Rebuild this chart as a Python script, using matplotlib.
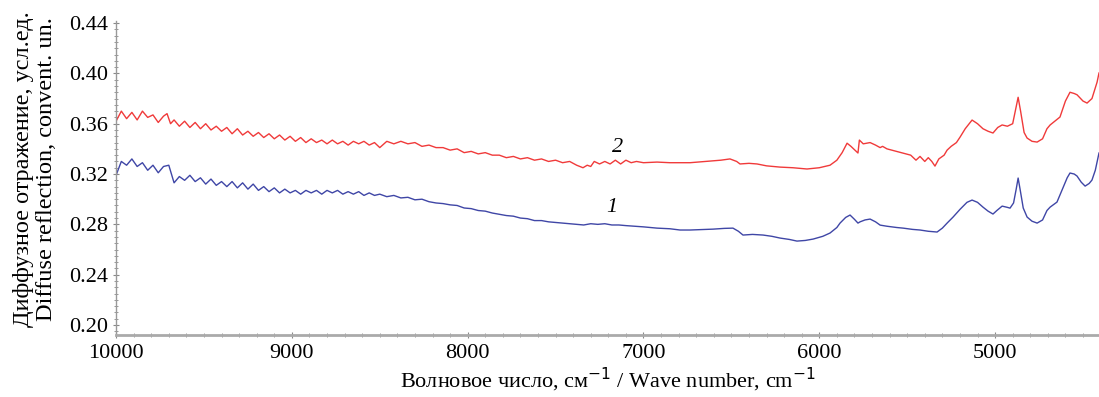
import matplotlib
matplotlib.use("Agg")
import matplotlib.pyplot as plt
from matplotlib.ticker import MultipleLocator

plt.rcParams['font.family'] = ['Liberation Serif', 'DejaVu Serif']

# curve 2 (red): wave number, reflection
wn_2 = [10000, 9970, 9940, 9910, 9880, 9850, 9820, 9790, 9760, 9730, 9710, 9690, 9670, 9640,
        9610, 9580, 9550, 9520, 9490, 9460, 9430, 9400, 9370, 9340, 9310, 9280, 9250, 9220,
        9190, 9160, 9130, 9100, 9070, 9040, 9010, 8980, 8950, 8920, 8890, 8860, 8830, 8800,
        8770, 8740, 8710, 8680, 8650, 8620, 8590, 8560, 8530, 8500, 8460, 8420, 8380, 8340,
        8300, 8260, 8220, 8180, 8140, 8100, 8060, 8020, 7980, 7940, 7900, 7860, 7820, 7780,
        7740, 7700, 7660, 7620, 7580, 7540, 7500, 7460, 7420, 7380, 7344, 7320, 7300, 7280,
        7250, 7220, 7190, 7160, 7130, 7100, 7070, 7040, 7000, 6923, 6850, 6792, 6735, 6650,
        6560, 6508, 6470, 6451, 6400, 6354, 6300, 6223, 6150, 6070, 6000, 5939, 5900, 5870,
        5842, 5820, 5790, 5780, 5772, 5750, 5711, 5680, 5654, 5640, 5615, 5560, 5523, 5480,
        5450, 5427, 5400, 5380, 5360, 5342, 5320, 5290, 5273, 5250, 5220, 5199, 5170, 5131,
        5100, 5069, 5040, 5012, 4985, 4960, 4930, 4900, 4885, 4869, 4855, 4835, 4818, 4790,
        4761, 4730, 4705, 4687, 4660, 4631, 4600, 4574, 4550, 4534, 4500, 4477, 4449, 4420,
        4409]
refl_2 = [0.362, 0.370, 0.364, 0.369, 0.363, 0.370, 0.365, 0.367, 0.361, 0.366, 0.368,
          0.360, 0.363, 0.358, 0.362, 0.357, 0.361, 0.356, 0.360, 0.355, 0.358, 0.354,
          0.357, 0.352, 0.356, 0.351, 0.354, 0.350, 0.353, 0.349, 0.352, 0.348, 0.351,
          0.347, 0.350, 0.346, 0.349, 0.345, 0.348, 0.345, 0.347, 0.344, 0.347, 0.344,
          0.346, 0.343, 0.346, 0.344, 0.346, 0.343, 0.345, 0.341, 0.346, 0.344, 0.346,
          0.344, 0.345, 0.342, 0.343, 0.341, 0.341, 0.339, 0.340, 0.337, 0.338, 0.336,
          0.337, 0.335, 0.335, 0.333, 0.334, 0.332, 0.333, 0.331, 0.332, 0.330, 0.331,
          0.329, 0.330, 0.327, 0.325, 0.327, 0.326, 0.330, 0.328, 0.330, 0.328, 0.331,
          0.328, 0.331, 0.329, 0.330, 0.329, 0.3295, 0.329, 0.329, 0.329, 0.330, 0.331,
          0.332, 0.330, 0.328, 0.3285, 0.328, 0.3265, 0.3255, 0.325, 0.324, 0.325, 0.327,
          0.331, 0.337, 0.3445, 0.342, 0.338, 0.3367, 0.347, 0.344, 0.345, 0.343, 0.341,
          0.342, 0.340, 0.338, 0.3367, 0.335, 0.331, 0.334, 0.330, 0.333, 0.330, 0.3263,
          0.332, 0.335, 0.339, 0.342, 0.345, 0.3494, 0.356, 0.3629, 0.360, 0.356, 0.354,
          0.3526, 0.357, 0.359, 0.358, 0.360, 0.370, 0.381, 0.370, 0.353, 0.3486, 0.346,
          0.3454, 0.348, 0.356, 0.359, 0.362, 0.3653, 0.378, 0.385, 0.384, 0.383, 0.378,
          0.3764, 0.380, 0.393, 0.4003]

# curve 1 (blue)
wn_1 = [10000, 9970, 9940, 9910, 9880, 9850, 9820, 9790, 9760, 9730, 9700, 9670, 9640, 9610,
        9580, 9550, 9520, 9490, 9460, 9430, 9400, 9370, 9340, 9310, 9280, 9250, 9220, 9190,
        9160, 9130, 9100, 9070, 9040, 9010, 8980, 8950, 8920, 8890, 8860, 8830, 8800, 8770,
        8740, 8710, 8680, 8650, 8620, 8590, 8560, 8530, 8500, 8460, 8420, 8380, 8340, 8300,
        8260, 8220, 8180, 8140, 8100, 8060, 8020, 7980, 7940, 7900, 7860, 7820, 7780, 7740,
        7700, 7660, 7620, 7580, 7540, 7500, 7460, 7420, 7380, 7340, 7300, 7260, 7220, 7180,
        7140, 7100, 7050, 7000, 6923, 6850, 6792, 6735, 6650, 6604, 6540, 6491, 6460, 6434,
        6380, 6320, 6270, 6223, 6170, 6127, 6080, 6035, 5980, 5939, 5900, 5882, 5850, 5825,
        5800, 5780, 5768, 5740, 5711, 5680, 5654, 5615, 5560, 5523, 5470, 5427, 5380, 5330,
        5300, 5273, 5239, 5199, 5160, 5131, 5100, 5069, 5040, 5012, 4990, 4960, 4930, 4915,
        4895, 4880, 4869, 4858, 4840, 4818, 4790, 4761, 4730, 4705, 4687, 4648, 4620, 4590,
        4574, 4550, 4534, 4510, 4488, 4465, 4449, 4430, 4409]
refl_1 = [0.319, 0.330, 0.327, 0.332, 0.326, 0.329, 0.323, 0.327, 0.321, 0.326, 0.327,
          0.313, 0.318, 0.315, 0.319, 0.314, 0.317, 0.312, 0.316, 0.311, 0.314, 0.310,
          0.314, 0.309, 0.313, 0.308, 0.312, 0.307, 0.310, 0.306, 0.309, 0.305, 0.308,
          0.305, 0.307, 0.304, 0.307, 0.305, 0.307, 0.304, 0.307, 0.305, 0.307, 0.304,
          0.306, 0.304, 0.306, 0.303, 0.305, 0.303, 0.304, 0.302, 0.303, 0.301, 0.3015,
          0.2995, 0.300, 0.298, 0.297, 0.2965, 0.2955, 0.295, 0.293, 0.2925, 0.291,
          0.2905, 0.289, 0.288, 0.287, 0.2865, 0.285, 0.2845, 0.283, 0.283, 0.282,
          0.2815, 0.281, 0.2805, 0.280, 0.2795, 0.2805, 0.280, 0.2805, 0.2795, 0.2795,
          0.279, 0.2785, 0.278, 0.277, 0.2765, 0.2755, 0.2755, 0.276, 0.2762, 0.2768,
          0.277, 0.2745, 0.2715, 0.272, 0.2715, 0.2705, 0.2691, 0.268, 0.2667, 0.2672,
          0.2683, 0.2705, 0.2731, 0.2775, 0.281, 0.2855, 0.2874, 0.284, 0.281, 0.282,
          0.2835, 0.2842, 0.282, 0.2794, 0.2785, 0.2775, 0.277, 0.276, 0.2755, 0.2745,
          0.2739, 0.277, 0.281, 0.2858, 0.292, 0.2975, 0.2993, 0.2975, 0.2937, 0.2905,
          0.2882, 0.291, 0.2945, 0.2935, 0.2929, 0.297, 0.308, 0.3168, 0.308, 0.293,
          0.2858, 0.2825, 0.281, 0.2835, 0.291, 0.2937, 0.2977, 0.307, 0.317, 0.3208,
          0.320, 0.3184, 0.3135, 0.3104, 0.3125, 0.3152, 0.323, 0.3367]

fig = plt.figure(figsize=(10.99, 3.97), dpi=100)
ax = fig.add_axes([0.1056, 0.156, 0.8944, 0.791])

ax.plot(wn_2, refl_2, color='#f03a3a', lw=1.0)
ax.plot(wn_1, refl_1, color='#3f46a6', lw=1.0)

ax.text(7150, 0.3414, '2', fontsize=16, style='italic', ha='center', va='center')
ax.text(7179, 0.293, '1', fontsize=16, style='italic', ha='center', va='center')

ax.set_xlim(10000, 4409)
ax.set_ylim(0.192, 0.4416)
ax.xaxis.set_major_locator(MultipleLocator(1000))
ax.xaxis.set_minor_locator(MultipleLocator(100))
ax.yaxis.set_major_locator(MultipleLocator(0.04))
ax.yaxis.set_minor_locator(MultipleLocator(0.005))
ax.yaxis.set_major_formatter(plt.FormatStrFormatter('%.2f'))

ax.spines['top'].set_visible(False)
ax.spines['right'].set_visible(False)
ax.spines['bottom'].set_color('#aaaaaa')
ax.spines['bottom'].set_linewidth(2)
ax.spines['left'].set_color('#999999')
ax.spines['left'].set_linewidth(1)
ax.tick_params(axis='both', which='both', labelsize=16, color='#888888', direction='inout')
ax.tick_params(axis='both', which='major', length=5)
ax.tick_params(axis='both', which='minor', length=3)
ax.tick_params(axis='x', pad=4)

ax.set_xlabel('Волновое число, см$^{-1}$ / Wave number, cm$^{-1}$', fontsize=16, labelpad=2)
ax.set_ylabel('Диффузное отражение, усл.ед.\nDiffuse reflection, convent. un.',
              fontsize=17.5, linespacing=1.1)
ax.yaxis.set_label_coords(-0.06, 0.53)

fig.savefig('out.png', dpi=100)
